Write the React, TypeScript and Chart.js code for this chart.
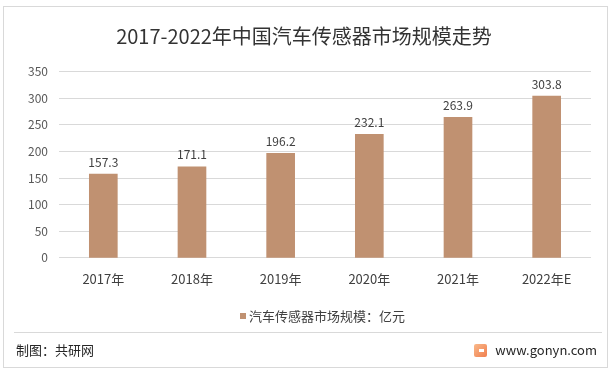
import React, { useEffect, useRef } from "react";
import { Chart, registerables } from "chart.js";

Chart.register(...registerables);

const categories = ["2017年", "2018年", "2019年", "2020年", "2021年", "2022年E"];
const marketSize = [157.3, 171.1, 196.2, 232.1, 263.9, 303.8];
const seriesLabel = "汽车传感器市场规模：亿元";
const titleText = "2017-2022年中国汽车传感器市场规模走势";
const yMax = 350;
const yStep = 50;

const FONT = "'Noto Sans CJK SC', 'Noto Sans', sans-serif";
const BAR = "#C09171";

const dataLabels = {
  id: "dataLabels",
  afterDatasetsDraw(chart: any) {
    const ctx = chart.ctx;
    const meta = chart.getDatasetMeta(0);
    ctx.save();
    ctx.font = `12px ${FONT}`;
    ctx.fillStyle = "#404040";
    ctx.textAlign = "center";
    ctx.textBaseline = "bottom";
    meta.data.forEach((el: any, i: number) => {
      ctx.fillText(marketSize[i].toFixed(1), el.x, el.y - 6);
    });
    ctx.restore();
  },
};

export default function App() {
  const ref = useRef<HTMLCanvasElement | null>(null);
  useEffect(() => {
    document.body.style.margin = "0";
    const chart = new Chart(ref.current as HTMLCanvasElement, {
      type: "bar",
      data: {
        labels: categories,
        datasets: [
          {
            label: seriesLabel,
            data: marketSize,
            backgroundColor: BAR,
            barThickness: 28,
          },
        ],
      },
      options: {
        animation: false,
        responsive: false,
        maintainAspectRatio: false,
        layout: { padding: { left: 17, right: 24, top: 0, bottom: 81.5 } },
        plugins: {
          title: {
            display: true,
            text: titleText,
            color: "#333333",
            font: { family: FONT, size: 20, weight: "normal" },
            padding: { top: 24, bottom: 23.5 },
          },
          legend: { display: false },
          tooltip: { enabled: false },
        },
        scales: {
          x: {
            grid: { display: false },
            border: { display: false },
            ticks: {
              color: "#404040",
              font: { family: FONT, size: 13 },
              padding: 5,
            },
          },
          y: {
            min: 0,
            max: yMax,
            ticks: {
              stepSize: yStep,
              color: "#595959",
              font: { family: FONT, size: 12 },
              padding: 11,
            },
            grid: { color: "#D9D9D9", drawTicks: false },
            border: { display: false },
          },
        },
      },
      plugins: [dataLabels],
    });
    return () => chart.destroy();
  }, []);

  return (
    <div style={{ position: "absolute", left: 0, top: 0, width: 615, height: 373, background: "#fff", fontFamily: FONT }}>
      <div
        style={{
          position: "absolute",
          left: 3,
          top: 6,
          width: 605,
          height: 362,
          border: "1px solid #D9D9D9",
          boxSizing: "border-box",
        }}
      />
      <canvas ref={ref} width={615} height={373} style={{ position: "absolute", left: 0, top: 0 }} />
      <div style={{ position: "absolute", left: 240, top: 313, width: 6, height: 6, background: BAR }} />
      <div style={{ position: "absolute", left: 249, top: 307, fontSize: 13, color: "#404040", lineHeight: "18px", whiteSpace: "nowrap" }}>
        {seriesLabel}
      </div>
      <div style={{ position: "absolute", left: 14, top: 332, width: 588, height: 1, background: "#D9D9D9" }} />
      <div style={{ position: "absolute", left: 16, top: 341, fontSize: 13, color: "#262626", lineHeight: "18px" }}>
        制图：共研网
      </div>
      <div
        style={{
          position: "absolute",
          left: 474,
          top: 344,
          width: 13,
          height: 13,
          borderRadius: 2,
          background: "linear-gradient(135deg, #F9B98A, #F07E4E)",
        }}
      >
        <div style={{ position: "absolute", left: 5, top: 5, width: 5, height: 3, background: "#fff" }} />
      </div>
      <div style={{ position: "absolute", right: 18, top: 341, fontSize: 13, color: "#262626", lineHeight: "18px" }}>
        www.gonyn.com
      </div>
    </div>
  );
}
